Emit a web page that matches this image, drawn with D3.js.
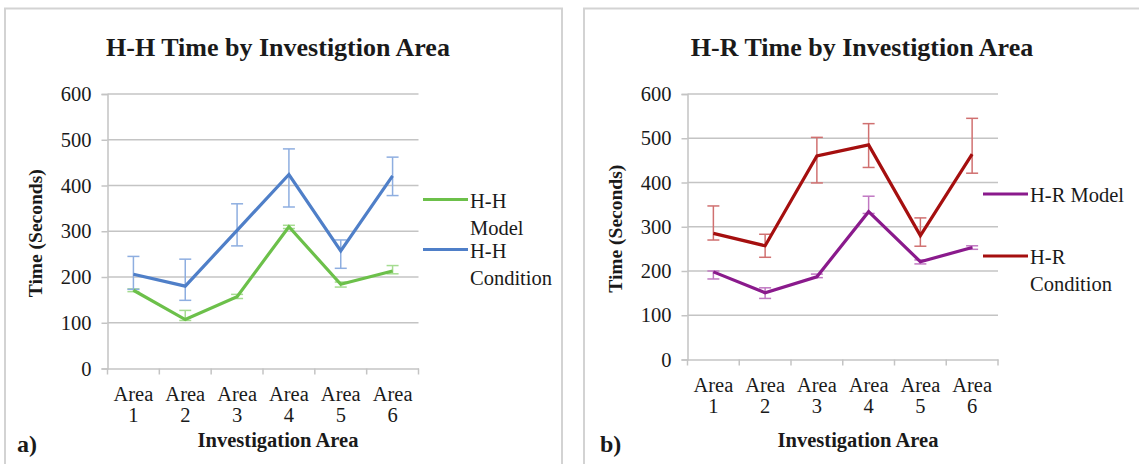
<!DOCTYPE html>
<html>
<head>
<meta charset="utf-8">
<script src="https://cdn.jsdelivr.net/npm/d3@7/dist/d3.min.js"></script>
<style>
  html, body { margin: 0; padding: 0; background: #fff; }
  svg { display: block; }
  text { font-family: "Liberation Serif", "Times New Roman", serif; fill: #1a1a1a; }
</style>
</head>
<body>
<svg id="chart" width="1139" height="464"></svg>
<script>
// ---------- DATA ----------
const categories = ["Area 1", "Area 2", "Area 3", "Area 4", "Area 5", "Area 6"];
const yTicks = [0, 100, 200, 300, 400, 500, 600];

// Panel a) H-H
const hhModel      = [171, 107, 157, 310, 184, 213];
const hhModelLow   = [168, 105, 153, 306, 178, 207];
const hhModelHigh  = [174, 127, 162, 313, 189, 225];
const hhCond       = [206, 180, 302, 424, 257, 421];
const hhCondLow    = [173, 149, 268, 353, 219, 378];
const hhCondHigh   = [245, 239, 360, 480, 281, 462];

// Panel b) H-R
const hrModel      = [198, 151, 187, 334, 221, 253];
const hrModelLow   = [182, 138, 185, 330, 216, 249];
const hrModelHigh  = [200, 162, 193, 369, 225, 257];
const hrCond       = [285, 257, 460, 485, 280, 464];
const hrCondLow    = [270, 231, 399, 434, 256, 421];
const hrCondHigh   = [347, 283, 502, 533, 320, 545];

// ---------- DRAW ----------
const svg = d3.select("#chart");
const FS = 20.5;

function drawPanel(p) {
  const g = svg.append("g");
  // panel frame
  g.append("rect")
    .attr("x", p.frame[0]).attr("y", p.frame[1])
    .attr("width", p.frame[2]).attr("height", p.frame[3])
    .attr("fill", "none").attr("stroke", "#d3d3d3").attr("stroke-width", 2);

  const x = d3.scaleBand().domain(categories).range([p.x0, p.x1]).padding(0);
  const y = d3.scaleLinear().domain([0, 600]).range([p.y0, p.y1]);

  // gridlines
  g.append("g").selectAll("line").data(yTicks.filter(d => d > 0)).join("line")
    .attr("x1", p.x0).attr("x2", p.x1)
    .attr("y1", d => y(d)).attr("y2", d => y(d))
    .attr("stroke", "#c4c4c4").attr("stroke-width", 1.5);

  // y axis
  const yAxis = g.append("g").attr("transform", `translate(${p.x0},0)`)
    .call(d3.axisLeft(y).tickValues(yTicks).tickSize(6).tickPadding(10));
  yAxis.select(".domain").attr("stroke", "#c4c4c4").attr("stroke-width", 1.5);
  yAxis.selectAll(".tick line").attr("stroke", "#c4c4c4").attr("stroke-width", 1.5);
  yAxis.selectAll(".tick text").attr("font-size", FS).attr("fill", "#1a1a1a")
    .style("font-family", '"Liberation Serif", serif');

  // x axis
  const xAxis = g.append("g").attr("transform", `translate(0,${p.y0})`)
    .call(d3.axisBottom(x).tickSize(0).tickFormat(""));
  xAxis.select(".domain").attr("stroke", "#c4c4c4").attr("stroke-width", 1.5);
  xAxis.selectAll(".tick").remove();
  const bounds = d3.range(categories.length + 1).map(i => p.x0 + i * x.step());
  g.append("g").selectAll("line").data(bounds).join("line")
    .attr("x1", d => d).attr("x2", d => d)
    .attr("y1", p.y0).attr("y2", p.y0 + 6)
    .attr("stroke", "#c4c4c4").attr("stroke-width", 1.5);

  // category labels (two lines)
  const cl = g.append("g").selectAll("text").data(categories).join("text")
    .attr("x", d => x(d) + x.bandwidth() / 2)
    .attr("y", p.y0 + 32)
    .attr("text-anchor", "middle").attr("font-size", FS);
  cl.append("tspan").text(d => d.split(" ")[0]);
  cl.append("tspan").attr("x", d => x(d) + x.bandwidth() / 2).attr("dy", 21.5)
    .text(d => d.split(" ")[1]);

  // series
  const cx = (d, i) => x(categories[i]) + x.bandwidth() / 2;
  p.series.forEach(s => {
    const eb = g.append("g").attr("stroke", s.errColor).attr("stroke-width", 1.5).attr("fill", "none");
    s.values.forEach((v, i) => {
      const xc = cx(v, i);
      eb.append("line").attr("x1", xc).attr("x2", xc).attr("y1", y(s.low[i])).attr("y2", y(s.high[i]));
      eb.append("line").attr("x1", xc - 6).attr("x2", xc + 6).attr("y1", y(s.low[i])).attr("y2", y(s.low[i]));
      eb.append("line").attr("x1", xc - 6).attr("x2", xc + 6).attr("y1", y(s.high[i])).attr("y2", y(s.high[i]));
    });
  });
  p.series.forEach(s => {
    const line = d3.line().x((d, i) => cx(d, i)).y(d => y(d));
    g.append("path").datum(s.values).attr("d", line)
      .attr("fill", "none").attr("stroke", s.color).attr("stroke-width", 3.2)
      .attr("stroke-linejoin", "miter");
  });

  // legend
  p.series.forEach(s => {
    g.append("line").attr("x1", s.legX).attr("x2", s.legX + 45)
      .attr("y1", s.legY).attr("y2", s.legY)
      .attr("stroke", s.color).attr("stroke-width", 3.2);
    const t = g.append("text").attr("x", s.legX + 47).attr("y", s.legY + 8).attr("font-size", FS);
    s.label.forEach((l, k) => {
      t.append("tspan").attr("x", s.legX + 47).attr("dy", k === 0 ? 0 : 27).text(l);
    });
  });

  // titles
  g.append("text").attr("x", p.titleX).attr("y", 56).attr("text-anchor", "middle")
    .attr("font-size", 26).attr("font-weight", "bold").text(p.title);
  g.append("text").attr("x", p.xTitleX).attr("y", 447).attr("text-anchor", "middle")
    .attr("font-size", FS).attr("font-weight", "bold").text("Investigation Area");
  g.append("text")
    .attr("transform", `translate(${p.yTitleX},${(p.y0 + p.y1) / 2 + 2}) rotate(-90)`)
    .attr("text-anchor", "middle").attr("font-size", 19.5).attr("font-weight", "bold")
    .text("Time (Seconds)");
  g.append("text").attr("x", p.tagX).attr("y", 452)
    .attr("font-size", 24).attr("font-weight", "bold").text(p.tag);
}

drawPanel({
  frame: [5, 8.5, 557, 470],
  x0: 107.5, x1: 418.5, y0: 368.5, y1: 94,
  title: "H-H Time by Investigtion Area", titleX: 278,
  xTitleX: 278, yTitleX: 42, tag: "a)", tagX: 17,
  series: [
    { values: hhModel, low: hhModelLow, high: hhModelHigh, color: "#6cc04a", errColor: "#a5dc90",
      label: ["H-H", "Model"], legX: 423, legY: 199.5 },
    { values: hhCond, low: hhCondLow, high: hhCondHigh, color: "#4f7fc8", errColor: "#8eaee0",
      label: ["H-H", "Condition"], legX: 423, legY: 249.5 }
  ]
});

drawPanel({
  frame: [584, 8.5, 600, 470],
  x0: 687.5, x1: 998, y0: 359.5, y1: 94,
  title: "H-R Time by Investigtion Area", titleX: 862,
  xTitleX: 858, yTitleX: 622, tag: "b)", tagX: 600,
  series: [
    { values: hrModel, low: hrModelLow, high: hrModelHigh, color: "#8a1a8c", errColor: "#c078c2",
      label: ["H-R Model"], legX: 983, legY: 194 },
    { values: hrCond, low: hrCondLow, high: hrCondHigh, color: "#a50f0f", errColor: "#d07070",
      label: ["H-R", "Condition"], legX: 983, legY: 256 }
  ]
});
</script>
</body>
</html>
